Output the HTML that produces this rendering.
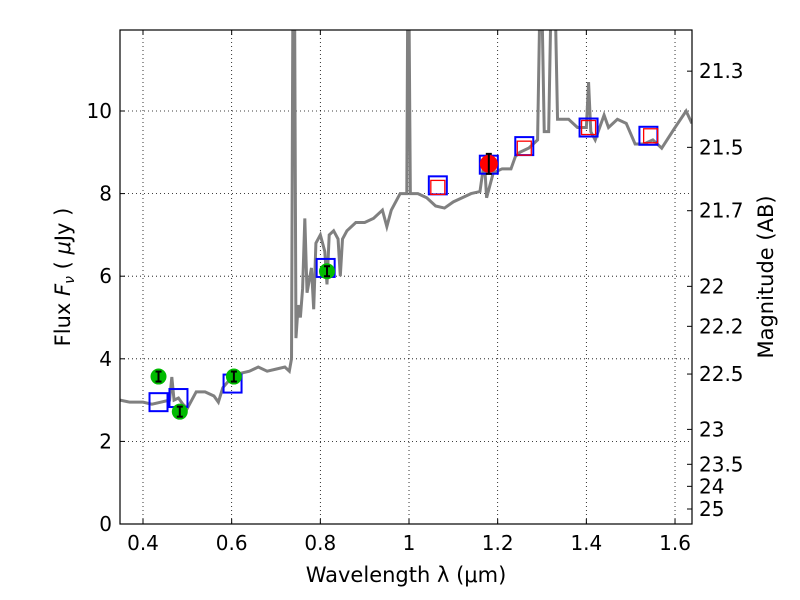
<!DOCTYPE html>
<html><head><meta charset="utf-8"><style>body{margin:0;background:#fff}svg{display:block}text{font-family:"DejaVu Sans","Liberation Sans",sans-serif}</style></head>
<body>
<svg id="chart" width="800" height="600" xmlns="http://www.w3.org/2000/svg"></svg>
<script>
const specWave=[0.348,0.37,0.40,0.42,0.44,0.46,0.465,0.47,0.48,0.49,0.50,0.52,0.54,0.56,0.57,0.58,0.60,0.62,0.64,0.66,0.68,0.70,0.72,0.73,0.735,0.738,0.742,0.745,0.75,0.755,0.76,0.765,0.77,0.78,0.785,0.79,0.80,0.81,0.815,0.82,0.83,0.84,0.845,0.85,0.86,0.88,0.90,0.92,0.94,0.95,0.96,0.98,0.995,0.997,1.0,1.003,1.02,1.04,1.06,1.08,1.10,1.12,1.14,1.16,1.17,1.175,1.19,1.21,1.23,1.24,1.25,1.27,1.29,1.295,1.30,1.305,1.315,1.32,1.33,1.335,1.36,1.38,1.40,1.405,1.41,1.42,1.43,1.44,1.45,1.47,1.49,1.51,1.53,1.55,1.57,1.60,1.625,1.638];
const specFlux=[3.0,2.95,2.95,2.9,2.95,3.0,3.56,3.0,3.05,2.9,2.8,3.2,3.2,3.1,2.95,3.3,3.55,3.65,3.7,3.8,3.7,3.75,3.8,3.7,4.0,12.5,12.5,4.5,5.3,5.0,5.7,7.4,5.6,6.2,5.2,6.8,7.0,6.6,5.8,7.0,7.1,6.9,6.0,6.9,7.1,7.3,7.3,7.4,7.6,7.2,7.6,8.0,8.0,12.5,12.5,8.0,8.0,7.9,7.7,7.65,7.8,7.9,8.0,8.05,8.8,7.9,8.5,8.6,8.6,8.9,9.0,9.1,9.3,12.5,12.5,9.5,9.5,12.5,12.5,9.8,9.8,9.6,9.6,10.7,9.5,9.3,9.6,9.9,9.6,9.8,9.7,9.2,9.2,9.3,9.1,9.6,10.0,9.7];
const greenWave=[0.435,0.483,0.605,0.815];
const greenFlux=[3.57,2.72,3.57,6.12];
const redWave=[1.18];
const redFlux=[8.72];
const blueWave=[0.435,0.48,0.602,0.812,1.065,1.18,1.26,1.405,1.54];
const blueFlux=[2.95,3.05,3.4,6.2,8.2,8.7,9.15,9.6,9.4];
const modelWave=[1.065,1.26,1.405,1.545];
const modelFlux=[8.15,9.1,9.6,9.4];
const xTicks=[0.4,0.6,0.8,1.0,1.2,1.4,1.6];
const xTickLabels=["0.4","0.6","0.8","1","1.2","1.4","1.6"];
const yTicks=[0,2,4,6,8,10];
const magTicks=[21.3,21.5,21.7,22,22.2,22.5,23,23.5,24,25];

const L=120,R=692,T=30,B=524;
const X=w=>143+(w-0.4)/0.2*88.67;
const Y=f=>B-f*41.3;
const svg=document.getElementById('chart');
const NS='http://www.w3.org/2000/svg';
function mk(tag,attrs,parent){const e=document.createElementNS(NS,tag);for(const k in attrs)e.setAttribute(k,attrs[k]);(parent||svg).appendChild(e);return e;}
const defs=mk('defs',{});const cp=mk('clipPath',{id:'clip'},defs);mk('rect',{x:L,y:T,width:R-L,height:B-T},cp);

const grid=mk('g',{});

xTicks.forEach((t,i)=>{const x=X(t);
 mk('line',{x1:x,x2:x,y1:T,y2:B,stroke:'#000','stroke-dasharray':'1,3','stroke-width':0.8},grid);
 mk('line',{x1:x,x2:x,y1:B,y2:B-5,stroke:'#000'},grid);mk('line',{x1:x,x2:x,y1:T,y2:T+5,stroke:'#000'},grid);
 const tx=mk('text',{x:x,y:B+26,'font-size':20,'text-anchor':'middle'});tx.textContent=xTickLabels[i];
 });
yTicks.forEach(t=>{const y=Y(t);
 mk('line',{x1:L,x2:R,y1:y,y2:y,stroke:'#000','stroke-dasharray':'1,3','stroke-width':0.8},grid);
 mk('line',{x1:L,x2:L+5,y1:y,y2:y,stroke:'#000'},grid);
 const tx=mk('text',{x:L-8,y:y+7,'font-size':20,'text-anchor':'end'});tx.textContent=t;
 });
magTicks.forEach(m=>{const y=Y(Math.pow(10,(23.9-m)/2.5));
 mk('line',{x1:R,x2:R-5,y1:y,y2:y,stroke:'#000'});
 const tx=mk('text',{x:R+7,y:y+7,'font-size':20});tx.textContent=m;
 });

const g=mk('g',{'clip-path':'url(#clip)'});
const sp=mk('polyline',{points:specWave.map((w,i)=>X(w)+','+Y(specFlux[i])).join(' '),fill:'none',stroke:'#808080','stroke-width':3},g);

blueWave.forEach((w,i)=>{const s=mk('rect',{x:X(w)-9,y:Y(blueFlux[i])-9,width:18,height:18,fill:'none',stroke:'#0000ff','stroke-width':2},g);
 });
modelWave.forEach((w,i)=>{const s=mk('rect',{x:X(w)-7,y:Y(modelFlux[i])-7,width:14,height:14,fill:'none',stroke:'#ff0000','stroke-width':1.3},g);
 });
function pt(w,f,col,r,name){const cx=X(w),cy=Y(f);
 const c=mk('circle',{cx:cx,cy:cy,r:r,fill:col},g);
 const e=r>8?10:5;mk('line',{x1:cx,x2:cx,y1:cy-e,y2:cy+e,stroke:'#000','stroke-width':2},g);
 mk('line',{x1:cx-3,x2:cx+3,y1:cy-e,y2:cy-e,stroke:'#000','stroke-width':2},g);mk('line',{x1:cx-3,x2:cx+3,y1:cy+e,y2:cy+e,stroke:'#000','stroke-width':2},g);}
greenWave.forEach((w,i)=>pt(w,greenFlux[i],'#00bb00',8,'observed-point'));
redWave.forEach((w,i)=>pt(w,redFlux[i],'#ff0000',9,'observed-point-red'));

const fr=mk('rect',{x:L,y:T,width:R-L,height:B-T,fill:'none',stroke:'#000','stroke-width':1.2});

const xl=mk('text',{x:406,y:582,'font-size':21,'text-anchor':'middle'});xl.textContent='Wavelength  λ (μm)';

const yl=mk('text',{x:70,y:277,'font-size':21,'text-anchor':'middle',transform:'rotate(-90 70 277)'});yl.innerHTML='Flux  <tspan font-style="italic">F</tspan><tspan font-style="italic" font-size="14" dy="4">ν</tspan><tspan dy="-4">  ( </tspan><tspan font-style="italic">μ</tspan>Jy )';

const rl=mk('text',{x:773,y:277,'font-size':21,'text-anchor':'middle',transform:'rotate(-90 773 277)'});rl.textContent='Magnitude (AB)';

</script>
</body></html>
